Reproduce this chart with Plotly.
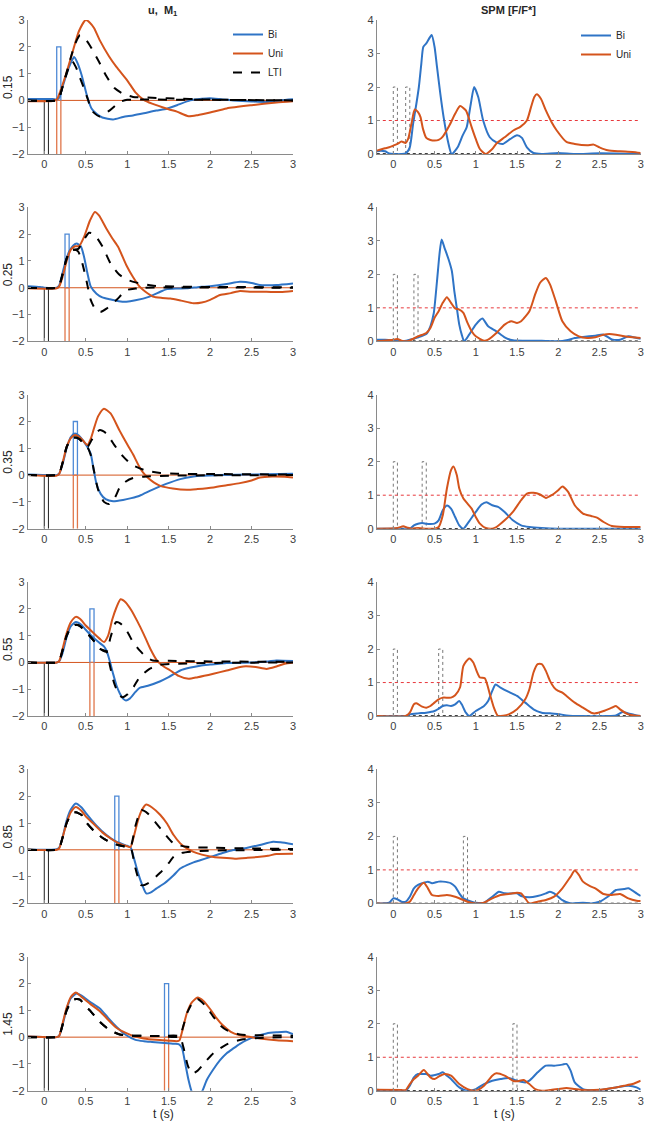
import plotly.graph_objects as go
from plotly.subplots import make_subplots

# ---------------- data ----------------
STIM_TIMES = [0.15, 0.25, 0.35, 0.55, 0.85, 1.45]
ROW_LABELS = ["0.15", "0.25", "0.35", "0.55", "0.85", "1.45"]
PULSE_W = 0.05
PULSE_AMP = 2
X_LIMITS = [-0.2, 3]
X_TICKS = [0, 0.5, 1, 1.5, 2, 2.5, 3]
X_TICK_LABELS = ["0", "0.5", "1", "1.5", "2", "2.5", "3"]
U_LIMITS = [-2, 3]
U_TICKS = [-2, -1, 0, 1, 2, 3]
SPM_LIMITS = [0, 4]
SPM_TICKS = [0, 1, 2, 3, 4]
SPM_THRESHOLD = 1

# --- u, M1 panels: (t, value) ---
U1_BI = [(-0.2,0.05),(0.1,0.05),(0.15,0.03),(0.18,0.1),(0.22,0.5),(0.27,1.0),(0.32,1.4),(0.36,1.62),(0.4,1.4),(0.45,0.95),(0.52,0.12),(0.57,-0.3),(0.63,-0.5),(0.7,-0.64),(0.83,-0.71),(0.95,-0.62),(1.07,-0.56),(1.2,-0.48),(1.35,-0.38),(1.48,-0.31),(1.6,-0.18),(1.76,0.0),(1.9,0.06),(2.0,0.08),(2.15,0.03),(2.28,0.0),(2.5,-0.04),(2.68,-0.06),(2.85,0.0),(3.0,0.04)]
U1_UNI = [(-0.2,-0.03),(0.1,-0.02),(0.15,0.03),(0.2,0.4),(0.27,1.06),(0.35,1.9),(0.42,2.6),(0.5,3.0),(0.55,2.9),(0.6,2.7),(0.67,2.24),(0.78,1.65),(0.87,1.25),(1.0,0.75),(1.1,0.3),(1.2,0.02),(1.3,-0.12),(1.5,-0.33),(1.6,-0.42),(1.74,-0.59),(1.85,-0.55),(2.0,-0.45),(2.2,-0.3),(2.5,-0.18),(2.8,-0.08),(3.0,-0.03)]
U1_LTI_UNI = [(-0.2,0.0),(0.15,0.0),(0.18,0.1),(0.22,0.5),(0.27,1.05),(0.32,1.6),(0.37,2.1),(0.43,2.43),(0.48,2.35),(0.55,2.05),(0.65,1.5),(0.75,0.9),(0.85,0.45),(0.95,0.25),(1.07,0.13),(1.3,0.1),(1.48,0.08),(2.0,0.03),(3.0,0.0)]
U1_LTI_BI = [(-0.2,0.0),(0.15,0.0),(0.18,0.1),(0.22,0.5),(0.27,1.0),(0.31,1.35),(0.34,1.45),(0.38,1.25),(0.43,0.85),(0.48,0.44),(0.53,0.0),(0.57,-0.37),(0.67,-0.6),(0.79,-0.37),(0.91,-0.06),(1.0,0.02),(1.2,0.03),(2.0,0.02),(3.0,0.0)]

U2_BI = [(-0.2,0.06),(-0.05,0.03),(0.0,0.0),(0.15,0.0),(0.18,0.08),(0.2,0.3),(0.25,0.9),(0.3,1.35),(0.35,1.58),(0.39,1.65),(0.44,1.55),(0.48,1.15),(0.52,0.55),(0.56,0.05),(0.63,-0.22),(0.7,-0.36),(0.79,-0.43),(0.9,-0.5),(0.99,-0.52),(1.1,-0.47),(1.27,-0.33),(1.4,-0.15),(1.47,-0.06),(1.6,-0.03),(1.72,-0.02),(1.85,0.02),(2.0,0.06),(2.2,0.14),(2.36,0.22),(2.5,0.18),(2.6,0.1),(2.68,0.09),(2.8,0.1),(3.0,0.16)]
U2_UNI = [(-0.2,-0.02),(0.15,-0.02),(0.18,0.05),(0.22,0.4),(0.27,1.0),(0.32,1.42),(0.37,1.55),(0.42,1.55),(0.48,1.9),(0.55,2.5),(0.61,2.83),(0.66,2.7),(0.75,2.2),(0.82,1.85),(0.89,1.53),(0.99,0.84),(1.07,0.4),(1.15,0.04),(1.22,-0.15),(1.31,-0.33),(1.42,-0.38),(1.52,-0.4),(1.65,-0.48),(1.8,-0.58),(1.9,-0.55),(2.0,-0.45),(2.12,-0.27),(2.25,-0.2),(2.36,-0.12),(2.5,-0.15),(2.68,-0.15),(2.85,-0.16),(3.0,-0.12)]
U2_LTI_UNI = [(-0.2,0.0),(0.15,0.0),(0.18,0.08),(0.22,0.5),(0.27,1.1),(0.32,1.4),(0.37,1.42),(0.41,1.45),(0.46,1.7),(0.5,1.9),(0.54,2.05),(0.6,2.0),(0.7,1.55),(0.8,0.9),(0.9,0.5),(1.0,0.3),(1.1,0.2),(1.3,0.08),(1.6,0.04),(2.0,0.03),(3.0,0.02)]
U2_LTI_BI = [(-0.2,0.0),(0.15,0.0),(0.18,0.08),(0.22,0.5),(0.27,1.1),(0.32,1.4),(0.37,1.42),(0.41,1.35),(0.46,0.9),(0.51,0.25),(0.56,-0.45),(0.62,-0.82),(0.68,-0.9),(0.75,-0.78),(0.87,-0.46),(0.99,-0.09),(1.1,-0.03),(1.2,0.0),(3.0,0.0)]

U3_BI = [(-0.2,0.02),(0.15,0.0),(0.18,0.05),(0.22,0.4),(0.27,1.0),(0.32,1.42),(0.37,1.55),(0.42,1.47),(0.47,1.28),(0.52,1.05),(0.56,0.8),(0.59,0.3),(0.63,-0.33),(0.68,-0.7),(0.74,-0.9),(0.83,-0.98),(0.95,-0.93),(1.05,-0.86),(1.15,-0.77),(1.3,-0.55),(1.47,-0.33),(1.64,-0.15),(1.8,-0.05),(1.88,-0.02),(2.1,0.0),(2.5,0.02),(3.0,0.05)]
U3_UNI = [(-0.2,0.0),(0.15,-0.02),(0.18,0.05),(0.22,0.45),(0.27,1.05),(0.32,1.38),(0.37,1.5),(0.42,1.43),(0.47,1.28),(0.52,1.12),(0.56,1.35),(0.6,1.75),(0.65,2.2),(0.72,2.48),(0.8,2.3),(0.91,1.65),(1.0,1.15),(1.07,0.78),(1.15,0.29),(1.19,0.1),(1.25,-0.1),(1.32,-0.27),(1.4,-0.4),(1.55,-0.5),(1.72,-0.55),(1.85,-0.52),(2.04,-0.46),(2.2,-0.38),(2.36,-0.3),(2.5,-0.2),(2.6,-0.09),(2.75,-0.05),(2.9,-0.06),(3.0,-0.09)]
U3_LTI_UNI = [(-0.2,0.0),(0.15,0.0),(0.18,0.05),(0.22,0.45),(0.27,1.05),(0.32,1.35),(0.37,1.4),(0.42,1.35),(0.47,1.2),(0.52,1.05),(0.57,1.3),(0.62,1.55),(0.67,1.68),(0.75,1.55),(0.85,1.1),(0.95,0.7),(1.05,0.4),(1.15,0.25),(1.25,0.15),(1.4,0.08),(1.6,0.05),(2.0,0.04),(3.0,0.02)]
U3_LTI_BI = [(-0.2,0.0),(0.15,0.0),(0.18,0.05),(0.22,0.45),(0.27,1.05),(0.32,1.35),(0.37,1.4),(0.42,1.35),(0.47,1.2),(0.52,1.05),(0.56,0.75),(0.6,0.15),(0.65,-0.55),(0.72,-1.0),(0.78,-1.08),(0.85,-0.85),(0.91,-0.46),(0.98,-0.25),(1.07,-0.11),(1.2,-0.06),(1.5,-0.02),(3.0,0.0)]

U4_BI = [(-0.2,0.0),(0.15,0.0),(0.18,0.05),(0.22,0.35),(0.27,0.95),(0.32,1.35),(0.38,1.51),(0.45,1.4),(0.5,1.22),(0.55,1.05),(0.6,0.9),(0.65,0.77),(0.72,0.6),(0.75,0.45),(0.79,0.05),(0.83,-0.42),(0.87,-0.85),(0.91,-1.15),(0.95,-1.35),(0.985,-1.42),(1.03,-1.35),(1.1,-1.1),(1.15,-0.95),(1.25,-0.87),(1.4,-0.7),(1.5,-0.55),(1.64,-0.3),(1.75,-0.2),(1.88,-0.12),(2.0,-0.08),(2.2,-0.02),(2.5,0.0),(2.7,0.04),(2.8,0.07),(3.0,0.05)]
U4_UNI = [(-0.2,0.0),(0.15,0.0),(0.18,0.05),(0.22,0.5),(0.27,1.1),(0.32,1.5),(0.38,1.7),(0.43,1.63),(0.5,1.38),(0.6,1.08),(0.67,0.88),(0.72,0.76),(0.77,1.0),(0.82,1.6),(0.87,2.05),(0.92,2.36),(0.98,2.25),(1.05,1.95),(1.12,1.55),(1.2,1.05),(1.28,0.5),(1.36,0.07),(1.44,-0.15),(1.52,-0.3),(1.62,-0.5),(1.74,-0.61),(1.85,-0.55),(2.04,-0.42),(2.2,-0.3),(2.4,-0.15),(2.55,-0.17),(2.68,-0.24),(2.8,-0.15),(2.9,-0.05),(3.0,0.0)]
U4_LTI_UNI = [(-0.2,0.0),(0.15,0.0),(0.18,0.05),(0.22,0.45),(0.27,1.0),(0.32,1.3),(0.37,1.4),(0.42,1.38),(0.5,1.15),(0.6,0.8),(0.67,0.51),(0.75,0.4),(0.8,0.95),(0.865,1.5),(0.92,1.45),(1.0,1.15),(1.07,0.76),(1.15,0.45),(1.23,0.2),(1.31,0.07),(1.5,0.06),(2.0,0.04),(3.0,0.02)]
U4_LTI_BI = [(-0.2,0.0),(0.15,0.0),(0.18,0.05),(0.22,0.45),(0.27,1.0),(0.32,1.3),(0.37,1.4),(0.42,1.38),(0.5,1.15),(0.6,0.8),(0.67,0.51),(0.75,0.4),(0.79,-0.1),(0.84,-0.75),(0.9,-1.2),(0.945,-1.3),(1.0,-1.2),(1.08,-0.9),(1.15,-0.55),(1.27,-0.24),(1.4,-0.09),(1.6,-0.05),(2.0,-0.02),(3.0,0.0)]

U5_BI = [(-0.2,0.0),(0.15,0.02),(0.18,0.08),(0.22,0.45),(0.27,1.1),(0.32,1.5),(0.38,1.73),(0.45,1.58),(0.5,1.38),(0.63,0.9),(0.75,0.55),(0.87,0.3),(1.0,0.15),(1.04,0.1),(1.08,-0.3),(1.13,-0.85),(1.18,-1.3),(1.23,-1.63),(1.28,-1.6),(1.35,-1.45),(1.45,-1.25),(1.56,-0.95),(1.64,-0.7),(1.72,-0.57),(1.8,-0.47),(1.88,-0.39),(2.0,-0.27),(2.15,-0.12),(2.28,-0.01),(2.45,0.08),(2.6,0.18),(2.76,0.3),(2.85,0.28),(3.0,0.21)]
U5_UNI = [(-0.2,0.0),(0.15,0.0),(0.18,0.05),(0.22,0.45),(0.27,1.0),(0.32,1.4),(0.38,1.6),(0.45,1.45),(0.5,1.25),(0.6,0.95),(0.7,0.65),(0.8,0.42),(0.9,0.24),(1.0,0.13),(1.04,0.1),(1.08,0.5),(1.13,1.1),(1.18,1.5),(1.23,1.69),(1.3,1.58),(1.4,1.3),(1.48,0.98),(1.56,0.55),(1.64,0.24),(1.72,0.05),(1.8,-0.08),(1.9,-0.18),(2.0,-0.25),(2.15,-0.3),(2.3,-0.33),(2.45,-0.3),(2.6,-0.26),(2.7,-0.22),(2.8,-0.16),(3.0,-0.15)]
U5_LTI_UNI = [(-0.2,0.0),(0.15,0.0),(0.18,0.05),(0.22,0.45),(0.27,1.0),(0.33,1.35),(0.38,1.4),(0.45,1.3),(0.5,1.05),(0.6,0.7),(0.7,0.45),(0.8,0.27),(0.9,0.17),(1.0,0.11),(1.04,0.1),(1.1,0.9),(1.17,1.48),(1.25,1.35),(1.4,0.8),(1.56,0.24),(1.72,0.11),(2.0,0.08),(2.5,0.05),(3.0,0.03)]
U5_LTI_BI = [(-0.2,0.0),(0.15,0.0),(0.18,0.05),(0.22,0.45),(0.27,1.0),(0.33,1.35),(0.38,1.4),(0.45,1.3),(0.5,1.05),(0.6,0.7),(0.7,0.45),(0.8,0.27),(0.9,0.17),(1.0,0.11),(1.04,0.1),(1.1,-0.7),(1.17,-1.32),(1.25,-1.25),(1.4,-0.85),(1.5,-0.5),(1.56,-0.26),(1.65,-0.12),(1.8,-0.06),(2.2,-0.02),(3.0,0.0)]

U6_BI = [(-0.2,0.02),(0.15,0.0),(0.18,0.05),(0.22,0.45),(0.27,1.05),(0.32,1.45),(0.39,1.63),(0.45,1.55),(0.55,1.32),(0.67,1.07),(0.77,0.72),(0.87,0.39),(0.99,0.07),(1.1,-0.1),(1.2,-0.15),(1.3,-0.18),(1.45,-0.22),(1.55,-0.25),(1.62,-0.26),(1.66,-0.4),(1.7,-0.98),(1.74,-1.6),(1.78,-2.05),(1.83,-2.3),(1.9,-2.05),(1.96,-1.6),(2.04,-1.2),(2.12,-0.86),(2.2,-0.6),(2.28,-0.42),(2.36,-0.25),(2.44,-0.11),(2.55,0.03),(2.68,0.14),(2.8,0.18),(2.92,0.2),(3.0,0.11)]
U6_UNI = [(-0.2,0.02),(0.15,0.0),(0.18,0.05),(0.22,0.5),(0.27,1.1),(0.32,1.5),(0.38,1.67),(0.45,1.5),(0.55,1.25),(0.67,0.97),(0.77,0.65),(0.87,0.35),(0.99,0.15),(1.1,0.02),(1.2,-0.05),(1.35,-0.1),(1.5,-0.13),(1.6,-0.15),(1.63,-0.12),(1.67,0.3),(1.72,0.9),(1.78,1.3),(1.85,1.48),(1.92,1.35),(2.0,1.05),(2.08,0.7),(2.15,0.45),(2.25,0.2),(2.35,0.08),(2.5,0.0),(2.6,-0.05),(2.8,-0.12),(3.0,-0.15)]
U6_LTI_UNI = [(-0.2,0.0),(0.15,0.0),(0.18,0.05),(0.22,0.45),(0.27,1.0),(0.33,1.35),(0.38,1.42),(0.43,1.4),(0.5,1.15),(0.55,1.0),(0.67,0.57),(0.79,0.26),(0.91,0.1),(1.0,0.06),(1.2,0.05),(1.4,0.04),(1.63,0.03),(1.68,0.45),(1.73,0.95),(1.8,1.35),(1.85,1.42),(1.95,1.15),(2.04,0.76),(2.12,0.45),(2.2,0.26),(2.36,0.1),(2.6,0.07),(2.8,0.06),(3.0,0.05)]
U6_LTI_BI = [(-0.2,0.0),(0.15,0.0),(0.18,0.05),(0.22,0.45),(0.27,1.0),(0.33,1.35),(0.38,1.42),(0.43,1.4),(0.5,1.15),(0.55,1.0),(0.67,0.57),(0.79,0.26),(0.91,0.1),(1.0,0.06),(1.2,0.05),(1.4,0.04),(1.63,0.03),(1.68,-0.4),(1.73,-1.05),(1.78,-1.36),(1.85,-1.25),(1.96,-0.86),(2.04,-0.6),(2.12,-0.42),(2.2,-0.27),(2.28,-0.17),(2.4,-0.08),(2.6,-0.03),(3.0,0.0)]

# --- SPM panels: (t, F/F*) ---
S1_BI = [(-0.2,0.08),(-0.15,0.1),(-0.1,0.08),(-0.05,0.02),(0.0,0.0),(0.1,0.0),(0.15,0.02),(0.2,0.2),(0.24,0.9),(0.28,1.5),(0.31,2.0),(0.34,2.7),(0.364,3.2),(0.4,3.3),(0.465,3.55),(0.5,3.2),(0.53,2.6),(0.57,1.8),(0.61,1.1),(0.67,0.3),(0.708,0.0),(0.78,0.2),(0.84,0.55),(0.89,0.8),(0.94,1.5),(0.98,2.0),(1.03,1.7),(1.09,1.0),(1.17,0.5),(1.25,0.35),(1.33,0.3),(1.42,0.45),(1.5,0.56),(1.56,0.48),(1.62,0.2),(1.7,0.03),(1.8,0.0),(2.0,0.03),(2.2,0.0),(2.5,0.02),(3.0,0.0)]
S1_UNI = [(-0.2,0.1),(-0.1,0.17),(-0.05,0.2),(0.0,0.25),(0.05,0.3),(0.1,0.37),(0.15,0.33),(0.18,0.45),(0.22,0.9),(0.26,1.33),(0.3,1.25),(0.33,1.1),(0.36,0.75),(0.4,0.48),(0.45,0.42),(0.5,0.4),(0.55,0.42),(0.6,0.52),(0.68,0.85),(0.75,1.2),(0.81,1.43),(0.88,1.3),(0.95,0.8),(1.0,0.45),(1.05,0.15),(1.12,0.0),(1.2,0.15),(1.25,0.31),(1.35,0.5),(1.46,0.71),(1.54,0.81),(1.62,1.0),(1.67,1.4),(1.71,1.7),(1.74,1.78),(1.79,1.65),(1.85,1.3),(1.92,0.95),(1.98,0.71),(2.1,0.36),(2.2,0.3),(2.35,0.26),(2.43,0.28),(2.5,0.2),(2.6,0.11),(2.75,0.08),(2.9,0.06),(3.0,0.03)]

S2_BI = [(-0.2,0.05),(-0.1,0.05),(0.0,0.03),(0.05,0.05),(0.1,0.0),(0.2,0.05),(0.3,0.12),(0.4,0.22),(0.45,0.45),(0.49,0.83),(0.53,1.8),(0.56,2.6),(0.586,3.04),(0.62,2.8),(0.67,2.45),(0.71,2.1),(0.74,1.5),(0.77,1.0),(0.8,0.5),(0.83,0.2),(0.86,0.0),(0.92,0.2),(1.0,0.5),(1.08,0.68),(1.15,0.45),(1.25,0.3),(1.35,0.12),(1.45,0.03),(1.6,0.02),(1.8,0.02),(2.0,0.0),(2.1,0.03),(2.2,0.1),(2.3,0.13),(2.45,0.17),(2.55,0.2),(2.65,0.06),(2.75,0.05),(2.85,0.15),(2.95,0.1),(3.0,0.08)]
S2_UNI = [(-0.2,0.0),(0.0,0.05),(0.05,0.07),(0.1,0.02),(0.15,0.0),(0.2,0.03),(0.3,0.15),(0.4,0.25),(0.45,0.4),(0.5,0.7),(0.55,0.9),(0.6,1.15),(0.65,1.32),(0.7,1.15),(0.75,0.98),(0.8,0.95),(0.85,0.85),(0.9,0.55),(0.95,0.3),(1.0,0.15),(1.1,0.02),(1.15,0.05),(1.25,0.25),(1.35,0.5),(1.43,0.6),(1.5,0.55),(1.55,0.6),(1.65,0.9),(1.72,1.4),(1.78,1.75),(1.85,1.89),(1.9,1.7),(1.97,1.2),(2.05,0.6),(2.15,0.3),(2.25,0.15),(2.35,0.1),(2.45,0.12),(2.55,0.2),(2.62,0.22),(2.7,0.2),(2.8,0.15),(2.9,0.12),(3.0,0.1)]

S3_BI = [(-0.2,0.0),(0.1,0.0),(0.2,0.0),(0.25,0.1),(0.3,0.15),(0.35,0.17),(0.4,0.15),(0.45,0.14),(0.5,0.15),(0.55,0.25),(0.6,0.55),(0.65,0.69),(0.7,0.6),(0.75,0.35),(0.8,0.1),(0.85,0.0),(0.9,0.15),(1.0,0.5),(1.07,0.72),(1.13,0.79),(1.2,0.7),(1.27,0.65),(1.35,0.5),(1.45,0.25),(1.55,0.1),(1.65,0.05),(1.8,0.02),(2.0,0.0),(3.0,0.0)]
S3_UNI = [(-0.2,0.0),(0.05,0.02),(0.12,0.07),(0.17,0.03),(0.22,0.0),(0.3,0.02),(0.4,0.0),(0.5,0.0),(0.55,0.05),(0.6,0.4),(0.65,1.2),(0.7,1.75),(0.73,1.86),(0.77,1.6),(0.8,1.2),(0.85,0.9),(0.9,0.75),(0.95,0.6),(1.0,0.35),(1.05,0.15),(1.12,0.02),(1.2,0.0),(1.25,0.05),(1.35,0.25),(1.45,0.5),(1.55,0.85),(1.62,1.05),(1.7,1.07),(1.78,1.02),(1.85,0.92),(1.92,1.0),(2.0,1.15),(2.05,1.26),(2.12,1.1),(2.2,0.7),(2.3,0.45),(2.4,0.38),(2.47,0.33),(2.55,0.2),(2.65,0.08),(2.8,0.05),(3.0,0.05)]

S4_BI = [(-0.2,0.0),(0.15,0.0),(0.2,0.05),(0.3,0.08),(0.4,0.1),(0.5,0.15),(0.55,0.22),(0.6,0.3),(0.65,0.32),(0.7,0.3),(0.75,0.35),(0.8,0.45),(0.83,0.35),(0.88,0.1),(0.92,0.0),(1.0,0.15),(1.1,0.3),(1.15,0.45),(1.2,0.75),(1.24,0.94),(1.3,0.85),(1.4,0.72),(1.5,0.6),(1.6,0.4),(1.7,0.2),(1.8,0.1),(1.9,0.08),(2.0,0.06),(2.1,0.02),(2.3,0.0),(2.6,0.0),(2.7,0.02),(2.78,0.12),(2.85,0.08),(2.95,0.02),(3.0,0.0)]
S4_UNI = [(-0.2,0.0),(0.15,0.0),(0.2,0.1),(0.25,0.35),(0.28,0.38),(0.35,0.28),(0.4,0.25),(0.45,0.3),(0.5,0.4),(0.55,0.5),(0.6,0.55),(0.7,0.55),(0.75,0.62),(0.81,0.86),(0.85,1.5),(0.92,1.72),(0.97,1.6),(1.01,1.35),(1.05,1.15),(1.11,1.13),(1.17,0.66),(1.22,0.25),(1.27,0.0),(1.4,0.05),(1.5,0.2),(1.6,0.5),(1.65,0.8),(1.7,1.3),(1.75,1.55),(1.8,1.55),(1.85,1.35),(1.9,1.05),(1.95,0.85),(2.0,0.75),(2.05,0.7),(2.1,0.6),(2.2,0.4),(2.3,0.25),(2.4,0.1),(2.45,0.08),(2.55,0.15),(2.65,0.25),(2.7,0.3),(2.75,0.2),(2.85,0.05),(3.0,0.0)]

S5_BI = [(-0.2,0.0),(-0.05,0.02),(0.0,0.15),(0.05,0.12),(0.1,0.05),(0.15,0.05),(0.2,0.2),(0.25,0.45),(0.3,0.55),(0.35,0.6),(0.42,0.65),(0.47,0.6),(0.55,0.65),(0.6,0.65),(0.7,0.6),(0.75,0.5),(0.8,0.3),(0.85,0.15),(0.95,0.05),(1.0,0.02),(1.1,0.02),(1.2,0.2),(1.28,0.35),(1.35,0.3),(1.45,0.3),(1.5,0.3),(1.55,0.22),(1.65,0.18),(1.75,0.22),(1.85,0.3),(1.9,0.35),(1.95,0.3),(2.05,0.1),(2.15,0.0),(2.3,0.02),(2.4,0.0),(2.5,0.05),(2.6,0.2),(2.7,0.4),(2.8,0.43),(2.85,0.45),(2.95,0.3),(3.0,0.22)]
S5_UNI = [(-0.2,0.0),(0.15,0.0),(0.2,0.05),(0.25,0.25),(0.3,0.45),(0.37,0.62),(0.42,0.45),(0.47,0.25),(0.55,0.22),(0.65,0.25),(0.75,0.2),(0.85,0.1),(0.9,0.05),(1.0,0.0),(1.1,0.02),(1.2,0.15),(1.3,0.25),(1.4,0.28),(1.5,0.32),(1.55,0.3),(1.6,0.15),(1.65,0.0),(1.75,0.05),(1.85,0.1),(1.95,0.2),(2.05,0.45),(2.15,0.8),(2.2,0.98),(2.25,0.85),(2.3,0.65),(2.38,0.52),(2.45,0.45),(2.55,0.28),(2.65,0.25),(2.75,0.28),(2.85,0.15),(2.95,0.08),(3.0,0.07)]

S6_BI = [(-0.2,0.03),(0.0,0.0),(0.15,0.0),(0.2,0.15),(0.25,0.4),(0.3,0.5),(0.35,0.5),(0.4,0.5),(0.45,0.45),(0.55,0.5),(0.6,0.55),(0.65,0.45),(0.7,0.35),(0.8,0.1),(0.9,0.0),(1.0,0.05),(1.1,0.2),(1.2,0.3),(1.3,0.35),(1.4,0.38),(1.5,0.3),(1.6,0.25),(1.65,0.3),(1.75,0.55),(1.85,0.75),(1.95,0.75),(2.05,0.78),(2.1,0.8),(2.15,0.6),(2.2,0.25),(2.3,0.05),(2.5,0.02),(2.7,0.1),(2.85,0.15),(2.95,0.1),(3.0,0.03)]
S6_UNI = [(-0.2,0.03),(0.1,0.02),(0.15,0.02),(0.2,0.2),(0.25,0.35),(0.3,0.45),(0.37,0.62),(0.45,0.4),(0.5,0.35),(0.55,0.42),(0.62,0.5),(0.7,0.45),(0.8,0.2),(0.9,0.05),(1.0,0.0),(1.1,0.15),(1.2,0.45),(1.25,0.52),(1.35,0.45),(1.45,0.3),(1.5,0.28),(1.58,0.32),(1.65,0.2),(1.72,0.05),(1.8,0.0),(1.9,0.02),(2.0,0.05),(2.1,0.08),(2.2,0.05),(2.3,0.02),(2.5,0.03),(2.7,0.1),(2.8,0.15),(2.9,0.2),(3.0,0.3)]

U_BI = [U1_BI, U2_BI, U3_BI, U4_BI, U5_BI, U6_BI]
U_UNI = [U1_UNI, U2_UNI, U3_UNI, U4_UNI, U5_UNI, U6_UNI]
U_LTI_UNI = [U1_LTI_UNI, U2_LTI_UNI, U3_LTI_UNI, U4_LTI_UNI, U5_LTI_UNI, U6_LTI_UNI]
U_LTI_BI = [U1_LTI_BI, U2_LTI_BI, U3_LTI_BI, U4_LTI_BI, U5_LTI_BI, U6_LTI_BI]
SPM_BI = [S1_BI, S2_BI, S3_BI, S4_BI, S5_BI, S6_BI]
SPM_UNI = [S1_UNI, S2_UNI, S3_UNI, S4_UNI, S5_UNI, S6_UNI]

# ---------------- style ----------------
W, H = 645, 1124
BLUE = "#2f74c6"
ORANGE = "#d4541c"
BLUE_PULSE = "#4f8ad6"
ORANGE_PULSE = "#e0764a"
FONT = "Liberation Sans, Arial, sans-serif"
AXIS_COLOR = "#8a8a8a"
TICK_COLOR = "#404040"
ROW_TOP0, ROW_STEP, ROW_H = 20.0, 187.35, 134.0
LEFT_X = (27.7, 293.0)
RIGHT_X = (376.8, 640.7)


def xs(pts):
    return [p[0] for p in pts]


def ys(pts):
    return [p[1] for p in pts]


def curve(pts, color, name, legend, show, dash="solid"):
    return go.Scatter(x=xs(pts), y=ys(pts), mode="lines", name=name,
                      line=dict(color=color, width=2, dash=dash, shape="spline", smoothing=0.6),
                      legend=legend, showlegend=show, hoverinfo="skip")


def rect(t0, lo, hi, color, width=1, dash="solid"):
    return go.Scatter(x=[t0, t0, t0 + PULSE_W, t0 + PULSE_W], y=[lo, hi, hi, lo], mode="lines",
                      line=dict(color=color, width=width, dash=dash), showlegend=False, hoverinfo="skip")


def hline(level, color, width=1, dash="solid"):
    return go.Scatter(x=X_LIMITS, y=[level, level], mode="lines",
                      line=dict(color=color, width=width, dash=dash), showlegend=False, hoverinfo="skip")


fig = make_subplots(rows=6, cols=2)

for i, t in enumerate(STIM_TIMES):
    r = i + 1
    first = i == 0
    # left: u, M1
    fig.add_trace(hline(0, ORANGE, 1), row=r, col=1)
    fig.add_trace(rect(0.0, U_LIMITS[0], 0, "#202020"), row=r, col=1)
    fig.add_trace(rect(t, U_LIMITS[0], 0, ORANGE_PULSE, 1.3), row=r, col=1)
    fig.add_trace(rect(t, 0, PULSE_AMP, BLUE_PULSE, 1.3), row=r, col=1)
    fig.add_trace(curve(U_BI[i], BLUE, "Bi", "legend", first), row=r, col=1)
    fig.add_trace(curve(U_UNI[i], ORANGE, "Uni", "legend", first), row=r, col=1)
    fig.add_trace(curve(U_LTI_UNI[i], "black", "LTI", "legend", first, "dash"), row=r, col=1)
    fig.add_trace(curve(U_LTI_BI[i], "black", "LTI", "legend", False, "dash"), row=r, col=1)
    # right: SPM
    fig.add_trace(rect(0.0, 0, PULSE_AMP, "#777777", 1, "dot"), row=r, col=2)
    fig.add_trace(rect(t, 0, PULSE_AMP, "#777777", 1, "dot"), row=r, col=2)
    fig.add_trace(hline(SPM_THRESHOLD, "#e8383c", 1, "dot"), row=r, col=2)
    fig.add_trace(hline(0, "black", 1.5, "dot"), row=r, col=2)
    fig.add_trace(curve(SPM_BI[i], BLUE, "Bi", "legend2", first), row=r, col=2)
    fig.add_trace(curve(SPM_UNI[i], ORANGE, "Uni", "legend2", first), row=r, col=2)

axis_common = dict(showgrid=False, zeroline=False, showline=True, linecolor=AXIS_COLOR, linewidth=1,
                   ticks="inside", ticklen=3, tickcolor=AXIS_COLOR, mirror=False,
                   tickfont=dict(family=FONT, size=11, color=TICK_COLOR), automargin=False)

for i in range(6):
    r = i + 1
    top = ROW_TOP0 + i * ROW_STEP
    dom = [1 - (top + ROW_H) / H, 1 - top / H]
    for c in (1, 2):
        xdom = LEFT_X if c == 1 else RIGHT_X
        fig.update_xaxes(domain=[xdom[0] / W, xdom[1] / W], range=X_LIMITS, tickvals=X_TICKS,
                         ticktext=X_TICK_LABELS, **axis_common, row=r, col=c)
    fig.update_yaxes(domain=dom, range=U_LIMITS, tickvals=U_TICKS, **axis_common, row=r, col=1)
    fig.update_yaxes(domain=dom, range=SPM_LIMITS, tickvals=SPM_TICKS, **axis_common, row=r, col=2)

annotations = []
for i, lab in enumerate(ROW_LABELS):
    top = ROW_TOP0 + i * ROW_STEP
    annotations.append(dict(text=lab, x=8 / W, y=1 - (top + ROW_H / 2) / H, xref="paper", yref="paper",
                            textangle=-90, showarrow=False, xanchor="center", yanchor="middle",
                            font=dict(family=FONT, size=12, color="#262626")))
annotations.append(dict(text="<b>u,  M<sub>1</sub></b>", x=163 / W, y=1 - 11 / H, xref="paper", yref="paper",
                        showarrow=False, xanchor="center", yanchor="middle",
                        font=dict(family=FONT, size=11, color="#262626")))
annotations.append(dict(text="<b>SPM [F/F*]</b>", x=508 / W, y=1 - 10 / H, xref="paper", yref="paper",
                        showarrow=False, xanchor="center", yanchor="middle",
                        font=dict(family=FONT, size=11, color="#262626")))
for cx in (163, 505):
    annotations.append(dict(text="t (s)", x=cx / W, y=1 - 1114 / H, xref="paper", yref="paper",
                            showarrow=False, xanchor="center", yanchor="middle",
                            font=dict(family=FONT, size=12, color="#262626")))

legend_common = dict(bgcolor="rgba(0,0,0,0)", borderwidth=0, xanchor="left", yanchor="top",
                     font=dict(family=FONT, size=10, color="#262626"), itemwidth=30, tracegroupgap=0)

fig.update_layout(
    width=W, height=H, margin=dict(l=0, r=0, t=0, b=0),
    paper_bgcolor="white", plot_bgcolor="white",
    annotations=annotations,
    legend=dict(x=228 / W, y=1 - 20 / H, **legend_common),
    legend2=dict(x=576 / W, y=1 - 21 / H, **legend_common),
)

fig.write_html("out.html", config={"displayModeBar": False},
               post_script="document.body.style.margin='0';document.body.style.padding='0';document.body.style.overflow='hidden';")
